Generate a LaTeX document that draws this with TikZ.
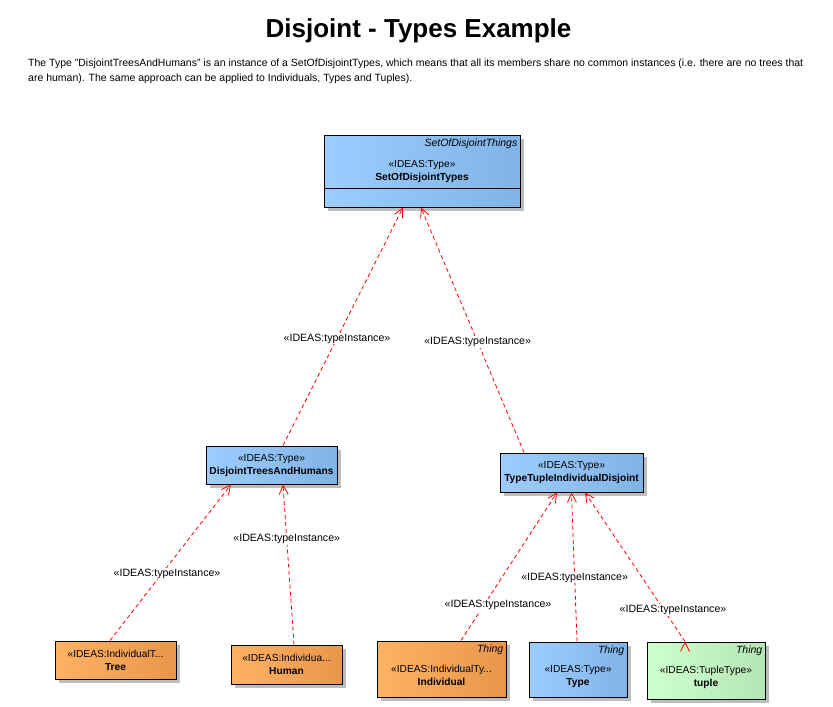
\documentclass[tikz,border=0pt]{standalone}
\usepackage{fontspec}
\setmainfont{Liberation Sans}
\usetikzlibrary{arrows.meta,positioning,shadows}

\definecolor{typeL}{HTML}{9DCDFF}
\definecolor{typeR}{HTML}{80B3E6}
\definecolor{indivL}{HTML}{FFB263}
\definecolor{indivR}{HTML}{E8964B}
\definecolor{tupleL}{HTML}{CEFFCE}
\definecolor{tupleR}{HTML}{B5E5B5}
\definecolor{shadowgray}{HTML}{BDBDBD}

\begin{document}
\begin{tikzpicture}[x=1pt,y=1pt,>={Straight Barb[length=9pt,width=9pt]}]
        \tikzset{block/.style={draw, rectangle, align=center, line width=1pt, inner sep=2pt,
            font=\fontsize{10.2}{13}\selectfont,
            drop shadow={shadow xshift=4pt,shadow yshift=-4pt,fill=shadowgray,opacity=1}},
        tblock/.style={block, left color=typeL, right color=typeR},
        iblock/.style={block, left color=indivL, right color=indivR},
        ublock/.style={block, left color=tupleL, right color=tupleR},
        kind/.style={anchor=north east, inner xsep=3pt, inner ysep=4pt, font=\fontsize{10.5}{12}\selectfont\itshape},
        dep/.style={draw=red, line width=0.8pt, dash pattern=on 4pt off 3pt, ->},
        lbl/.style={fill=white, inner sep=1pt, font=\fontsize{10.6}{12}\selectfont, text=black}
        }
        \useasboundingbox (0,0) rectangle (833,-707);
        \node [font=\fontsize{26}{30}\selectfont\bfseries, anchor=base] (title) at (418.5,-37) {Disjoint - Types Example};
        \node [anchor=north west, inner sep=0pt, align=left, font=\fontsize{10.5}{15}\selectfont] (desc) at (28,-59)
            {The Type "DisjointTreesAndHumans" is an instance of a SetOfDisjointTypes, which means that all its members share no common instances (i.e. there are no trees that\\
             are human). The same approach can be applied to Individuals, Types and Tuples).};

        \node [tblock, minimum width=196pt, minimum height=72pt,
               label={[kind]north east:SetOfDisjointThings}] (set) at (422,-171) {«IDEAS:Type»\\\textbf{SetOfDisjointTypes}};
        \node [tblock, minimum width=131pt, minimum height=38pt, below=238pt of set, xshift=-150.5pt] (trees) {«IDEAS:Type»\\\textbf{DisjointTreesAndHumans}};
        \node [tblock, minimum width=143pt, minimum height=39pt, below=245pt of set, xshift=149.5pt] (tuples) {«IDEAS:Type»\\\textbf{TypeTupleIndividualDisjoint}};
        \node [iblock, minimum width=121pt, minimum height=38pt, below=156pt of trees, xshift=-156pt] (tree) {«IDEAS:IndividualT...\\\textbf{Tree}};
        \node [iblock, minimum width=111pt, minimum height=39pt, below=160pt of trees, xshift=15pt] (human) {«IDEAS:Individua...\\\textbf{Human}};
        \node [iblock, minimum width=129pt, minimum height=56pt, below=148pt of tuples, xshift=-130pt,
               label={[kind]north east:Thing}] (indiv) {\mbox{}\\[8pt]«IDEAS:IndividualTy...\\\textbf{Individual}};
        \node [tblock, minimum width=98pt, minimum height=55pt, below=149pt of tuples, xshift=6.5pt,
               label={[kind]north east:Thing}] (type) {\mbox{}\\[8pt]«IDEAS:Type»\\\textbf{Type}};
        \node [ublock, minimum width=118pt, minimum height=57pt, below=149pt of tuples, xshift=134.5pt,
               label={[kind]north east:Thing}] (tuple) {\mbox{}\\[8pt]«IDEAS:TupleType»\\\textbf{tuple}};
        \draw [line width=1pt] ([yshift=19pt]set.south west) -- ([yshift=19pt]set.south east);

%% paths
        \path[dep] ([xshift=11.5pt]trees.north) edge node[lbl, pos=0.45] {«IDEAS:typeInstance»} ([xshift=-19pt]set.south)
                   ([xshift=-47.5pt]tuples.north) edge node[lbl, pos=0.45] {«IDEAS:typeInstance»} ([xshift=-1pt]set.south)
                   ([xshift=-5.5pt]tree.north) edge node[lbl, pos=0.43, xshift=5pt] {«IDEAS:typeInstance»} ([xshift=-40.5pt]trees.south)
                   ([xshift=7.5pt]human.north) edge node[lbl, pos=0.66] {«IDEAS:typeInstance»} ([xshift=11.5pt]trees.south)
                   ([xshift=19.5pt]indiv.north) edge node[lbl, pos=0.24, xshift=14pt] {«IDEAS:typeInstance»} ([xshift=-14.5pt]tuples.south)
                   ([xshift=-1pt]type.north) edge node[lbl, pos=0.43] {«IDEAS:typeInstance»} (tuples.south)
                   ([xshift=-21pt]tuple.north) edge node[lbl, pos=0.21, xshift=9pt] {«IDEAS:typeInstance»} ([xshift=13.5pt]tuples.south)
                   ;
\end{tikzpicture}
\end{document}
